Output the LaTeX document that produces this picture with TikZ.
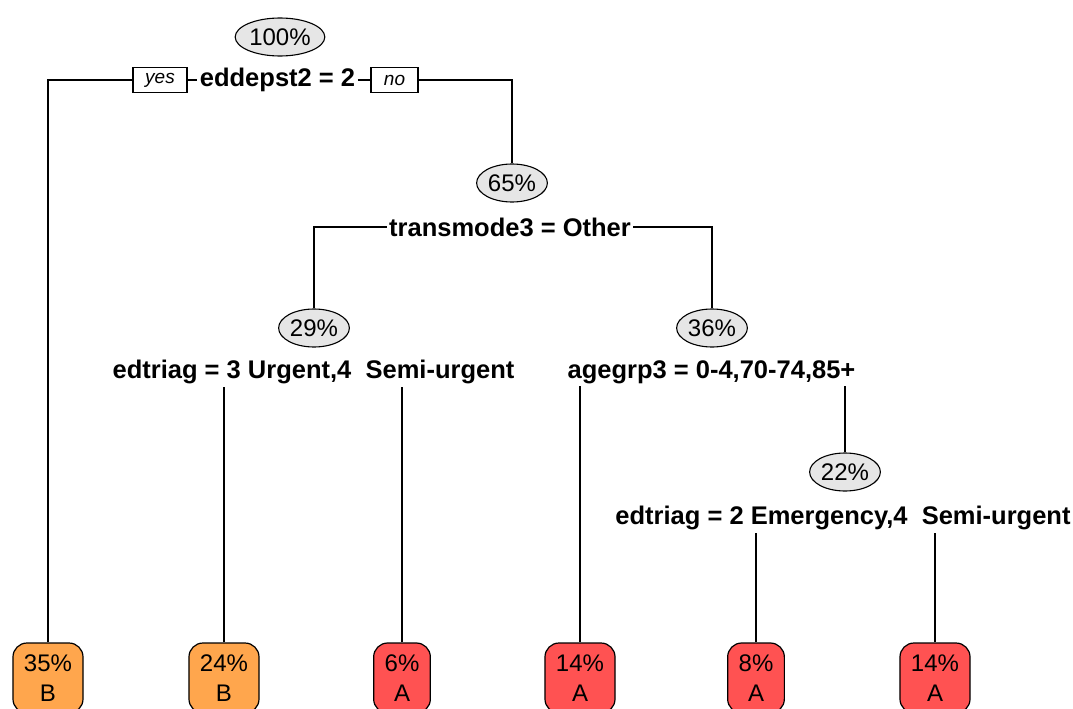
\documentclass[tikz,border=0pt]{standalone}
\usepackage{fontspec}
\setmainfont{Liberation Sans}
\usetikzlibrary{shapes.geometric}

\definecolor{classB}{RGB}{255,166,77}
\definecolor{classA}{RGB}{255,82,82}
\definecolor{pctgray}{RGB}{230,230,230}

\begin{document}
\begin{tikzpicture}
[x=1pt, y=-1pt, font=\fontsize{24}{28}\selectfont,
    every node/.style={align=center},
    line width=1.3pt,
    pct/.style={ellipse, draw=black, fill=pctgray, line width=1.1pt,
    inner xsep=1pt, inner ysep=0pt, minimum height=38pt},
    split/.style={font=\fontsize{25.5}{30}\selectfont\bfseries, inner sep=2pt},
    yesno/.style={rectangle, draw=black, line width=1.1pt,
    font=\fontsize{19}{22}\selectfont\itshape, minimum height=25pt, inner sep=0pt},
    leaf/.style={rectangle, rounded corners=14pt, draw=black, line width=1.2pt,
    inner xsep=11pt, minimum height=70pt, font=\fontsize{24}{30}\selectfont},
    leafB/.style={leaf, fill=classB},
    leafA/.style={leaf, fill=classA},
    ]
    \useasboundingbox (0,0) rectangle (1073,709);

    % root split
    \node[pct] (n100) at (280,37) {100\%};
    \node[split] (eddepst) at (277.5,80) {eddepst2 = 2};
    \node[yesno, minimum width=54pt] (yes) at (160,80) {yes};
    \node[yesno, minimum width=47pt] (no) at (394.5,80) {no};

    % second level
    \node[pct] (n65) at (512,183) {65\%};
    \node[split] (transmode) at (510,227) {transmode3 = Other};

    \node[pct] (n29) at (314,328) {29\%};
    \node[split] (triagL) at (313.5,372) {edtriag = 3 Urgent,4\ \ Semi-urgent};

    \node[pct] (n36) at (712,328) {36\%};
    \node[split] (agegrp) at (711.5,372) {agegrp3 = 0-4,70-74,85+};

    \node[pct] (n22) at (845,472) {22\%};
    \node[split] (triagR) at (843,518) {edtriag = 2 Emergency,4\ \ Semi-urgent};

    % leaves
    \node[leafB] (leaf35) at (48,678) {35\%\\B};
    \node[leafB] (leaf24) at (224,678) {24\%\\B};
    \node[leafA] (leaf6) at (402,678) {6\%\\A};
    \node[leafA] (leaf14a) at (580,678) {14\%\\A};
    \node[leafA] (leaf8) at (756,678) {8\%\\A};
    \node[leafA] (leaf14b) at (935,678) {14\%\\A};

    % branches
    \draw (leaf35.north) |- (yes.west);
    \draw (yes.east) -- (eddepst.west);
    \draw (eddepst.east) -- (no.west);
    \draw (no.east) -| (n65.north);

    \draw (n29.north) |- (transmode.west);
    \draw (transmode.east) -| (n36.north);

    \draw (leaf24.north) -- (leaf24.north |- triagL.south);
    \draw (leaf6.north) -- (leaf6.north |- triagL.south);

    \draw (leaf14a.north) -- (leaf14a.north |- agegrp.south);
    \draw (n22.north) -- (n22.north |- agegrp.south);

    \draw (leaf8.north) -- (leaf8.north |- triagR.south);
    \draw (leaf14b.north) -- (leaf14b.north |- triagR.south);

\end{tikzpicture}
\end{document}
